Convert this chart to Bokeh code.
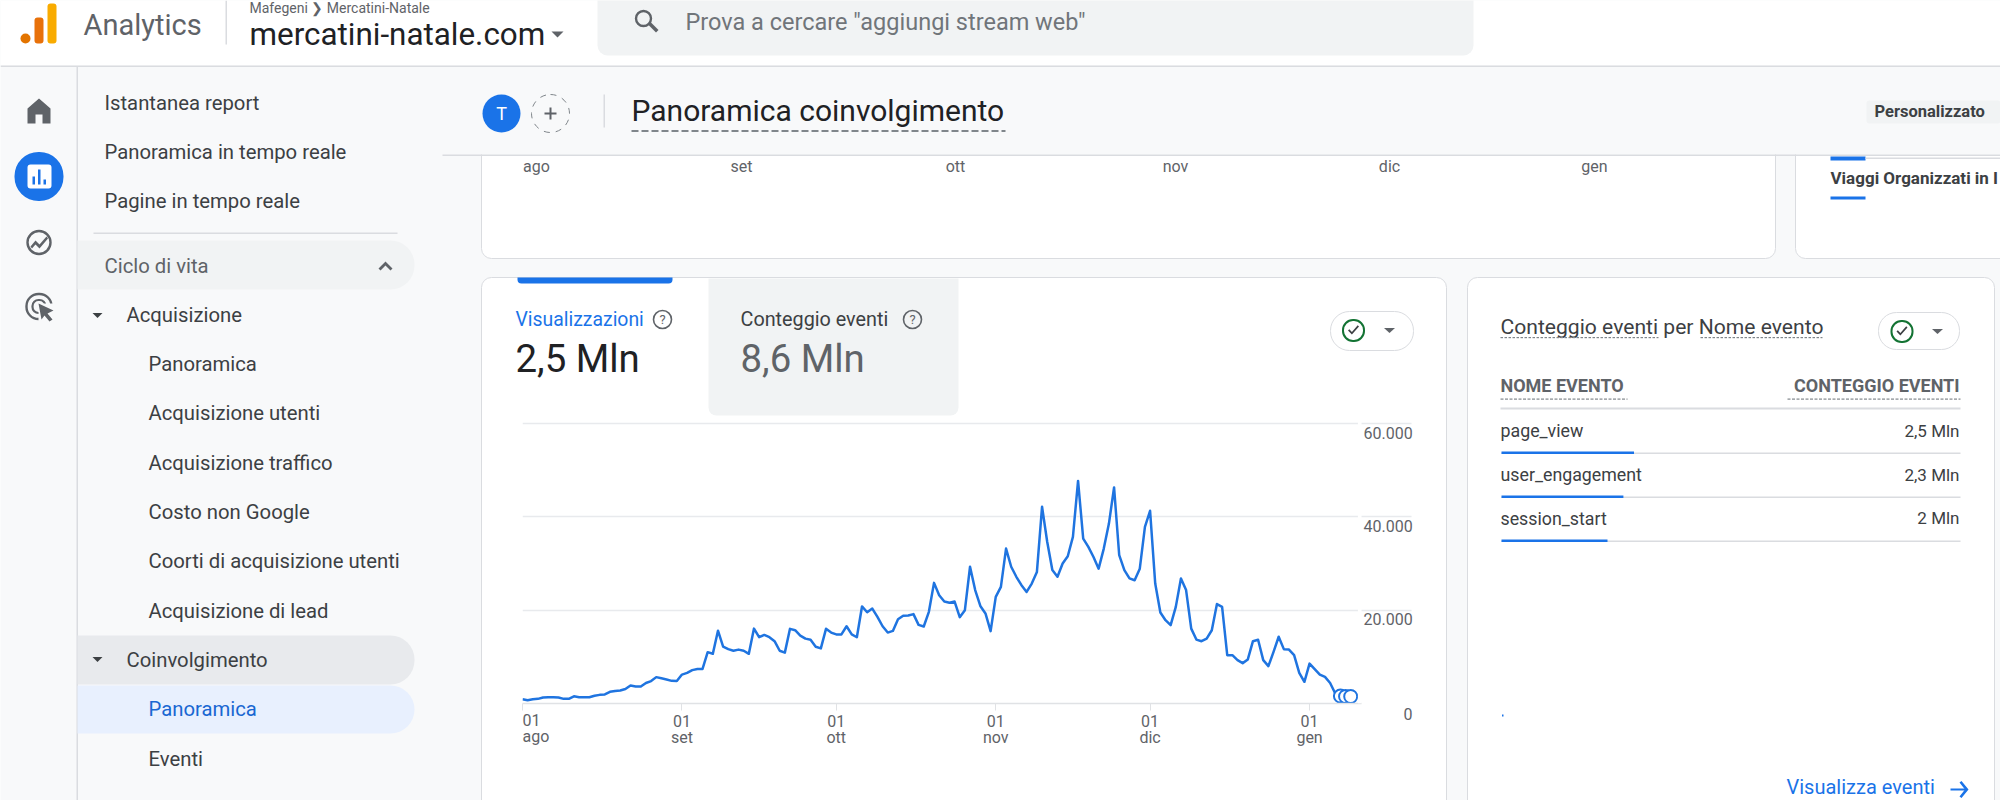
from datetime import datetime, timedelta
from bokeh.plotting import figure
from bokeh.models import BoxAnnotation, PolyAnnotation, Label, Range1d, FixedTicker
from bokeh.embed import file_html
from bokeh.resources import INLINE

# ---------- chart data ----------
start_date = datetime(2023, 8, 1)
visualizzazioni_k = [
    0.93, 0.7, 0.9, 1.0, 1.3, 1.35, 1.35, 1.3, 1.0, 1.0, 1.55, 1.35, 1.35, 1.35, 1.65, 1.85,
    1.95, 2.5, 2.7, 2.8, 3.1, 3.85, 3.65, 3.65, 4.4, 4.8, 5.65, 5.4, 5.15, 4.85, 4.8,
    6.2, 6.55, 7.15, 7.4, 7.4, 11.0, 10.65, 15.6, 12.2, 11.65, 11.3, 11.55, 11.3, 10.65,
    16.05, 14.2, 14.7, 14.2, 13.35, 11.3, 10.9, 16.0, 15.7, 14.55, 13.9, 13.65, 12.15, 11.8,
    16.0, 15.2, 14.8, 14.8, 16.55, 14.8, 14.2, 20.8, 19.55, 20.35, 18.55, 16.55, 15.2, 15.55,
    18.05, 18.8, 18.85, 19.15, 16.85, 16.5, 19.65, 25.85, 23.2, 21.85, 21.6, 21.85, 18.5, 20.0,
    29.3, 24.3, 20.9, 19.3, 15.5, 22.85, 25.0, 33.2, 29.3, 27.15, 25.35, 23.9, 25.7, 28.2,
    42.15, 34.65, 28.6, 27.15, 30.0, 31.55, 35.7, 47.7, 35.35, 33.55, 31.4, 28.9, 33.2, 38.55,
    46.3, 31.8, 28.6, 26.8, 26.4, 28.9, 37.85, 41.3, 25.7, 19.5, 17.85, 16.8, 20.7, 26.8,
    24.3, 16.05, 13.7, 13.35, 13.9, 15.7, 21.3, 20.7, 10.35, 10.35, 9.3, 8.65, 9.45, 13.35,
    13.65, 9.3, 8.0, 11.05, 14.3, 11.65, 11.55, 10.35, 6.55, 4.65, 8.55, 7.35, 6.2, 5.7,
    4.4, 2.15, 1.6, 1.5, 1.5,
]
month_tick_dates = [datetime(2023, 8, 1), datetime(2023, 9, 1), datetime(2023, 10, 1),
                    datetime(2023, 11, 1), datetime(2023, 12, 1), datetime(2024, 1, 1)]
month_tick_labels = ["01\nago", "01\nset", "01\nott", "01\nnov", "01\ndic", "01\ngen"]
y_tick_values = [0, 20000, 40000, 60000]
y_tick_labels = ["0", "20.000", "40.000", "60.000"]
marker_count = 3

event_names = ["page_view", "user_engagement", "session_start"]
event_values_mln = [2.5, 2.3, 2.0]
event_labels = ["2,5 Mln", "2,3 Mln", "2 Mln"]
top_month_labels = ["ago", "set", "ott", "nov", "dic", "gen"]
nav_top = ["Istantanea report", "Panoramica in tempo reale", "Pagine in tempo reale"]
nav_acq = ["Panoramica", "Acquisizione utenti", "Acquisizione traffico", "Costo non Google",
           "Coorti di acquisizione utenti", "Acquisizione di lead"]

# ---------- page: a full-canvas figure for the interface (axes in page pixels) ----------
W, H = 2000, 800
BLUE = "#1a73e8"
LINE_BLUE = "#1f74e0"
bg = figure(width=W, height=H, output_backend="svg", toolbar_location=None,
            x_range=Range1d(0, W), y_range=Range1d(H, 0),
            x_axis_type=None, y_axis_type=None,
            min_border=0, min_border_left=0, min_border_right=0, min_border_top=0, min_border_bottom=0)
bg.border_fill_color = "#f8f9fa"
bg.background_fill_color = "#f8f9fa"
bg.outline_line_color = None
bg.grid.visible = False

# ---------- chart figure, laid over the card ----------
CX0, CY0, CX1, CY1 = 500, 400, 1430, 770
FL, FT, FR, FB = 522, 409, 1361, 703
dates = [start_date + timedelta(days=i) for i in range(len(visualizzazioni_k))]
views = [v * 1000 for v in visualizzazioni_k]
x_end = start_date + timedelta(days=163.1)

p = figure(width=CX1 - CX0, height=CY1 - CY0, output_backend="svg", toolbar_location=None,
           x_axis_type="datetime", y_axis_location="right",
           x_range=Range1d(start_date, x_end), y_range=Range1d(0, 63000),
           min_border_left=FL - CX0, min_border_right=CX1 - FR,
           min_border_top=FT - CY0, min_border_bottom=CY1 - FB,
           stylesheets=[f":host {{ position: absolute !important; left: {CX0}px !important; top: {CY0}px !important; }}"])
p.border_fill_alpha = 0
p.background_fill_alpha = 0
p.outline_line_color = None
p.xgrid.visible = False
p.ygrid.grid_line_color = "#e8eaed"
p.ygrid.grid_line_width = 1.5
p.ygrid.ticker = FixedTicker(ticks=y_tick_values)

def epoch_ms(d):
    return (d - datetime(1970, 1, 1)).total_seconds() * 1000

tick_ms = [epoch_ms(d) for d in month_tick_dates]
xax = p.xaxis[0]
xax.ticker = FixedTicker(ticks=tick_ms)
overrides = {t: l for t, l in zip(tick_ms, month_tick_labels)}
overrides[tick_ms[0]] = ""
xax.major_label_overrides = overrides
xax.axis_line_color = "#e0e2e5"
xax.axis_line_width = 1.5
xax.major_tick_line_color = "#e0e2e5"
xax.major_tick_in = 0
xax.major_tick_out = 7
xax.minor_tick_line_color = None
xax.major_label_standoff = 1
xax.major_label_text_font = "Roboto"
xax.major_label_text_font_size = "16px"
xax.major_label_text_color = "#5f6368"
xax.major_label_text_line_height = 0.89

yax = p.yaxis[0]
yax.ticker = FixedTicker(ticks=y_tick_values[1:])
yax.major_label_overrides = {t: "\n" + l for t, l in zip(y_tick_values[1:], y_tick_labels[1:])}
yax.axis_line_color = None
yax.major_tick_line_color = "#e8eaed"
yax.major_tick_line_width = 1.5
yax.major_tick_in = 0
yax.major_tick_out = 50
yax.minor_tick_line_color = None
yax.major_label_standoff = -48
yax.major_label_text_font = "Roboto"
yax.major_label_text_font_size = "16px"
yax.major_label_text_color = "#5f6368"
yax.major_label_text_line_height = 1.0

p.line(dates, views, line_color=LINE_BLUE, line_width=2.5, line_join="round")
p.scatter(dates[-marker_count:], views[-marker_count:], size=13, fill_color="#ffffff",
          line_color=LINE_BLUE, line_width=2)
# small break between the grid and the rules over the right-hand labels
p.add_layout(BoxAnnotation(left=epoch_ms(x_end - timedelta(days=0.7)), right=epoch_ms(x_end),
                           top=63000, bottom=0, fill_color="#ffffff", fill_alpha=1,
                           line_alpha=0, editable=False))

# ---------- interface helpers (page pixels) ----------
def box(x0, y0, x1, y1, fill=None, radius=0, line=None, lw=1, dash="solid"):
    bg.add_layout(BoxAnnotation(left=x0, right=x1, top=y0, bottom=y1,
                                fill_color=fill, fill_alpha=1 if fill else 0,
                                line_color=line, line_width=lw, line_alpha=1 if line else 0, line_dash=dash,
                                border_radius=radius, editable=False))

def poly(pts, fill=None, line=None, lw=1):
    bg.add_layout(PolyAnnotation(xs=[x for x, _ in pts], ys=[y for _, y in pts],
                                 fill_color=fill, fill_alpha=1 if fill else 0,
                                 line_color=line, line_width=lw, line_alpha=1 if line else 0, editable=False))

def text(s, x, y, size, color="#3c4043", align="left", font="Roboto", style="normal", baseline="middle", lh=1.2):
    bg.add_layout(Label(x=x, y=y, text=s, text_font=font, text_font_size=f"{size}px", text_color=color,
                        text_align=align, text_baseline=baseline, text_font_style=style, text_line_height=lh))

def dashes(x0, x1, y, color="#80868b", on=3, off=2, h=1.5):
    x = x0
    while x < x1:
        box(x, y, min(x + on, x1), y + h, fill=color)
        x += on + off

def circle(cx, cy, r, fill=None, line=None, lw=1, dash="solid"):
    box(cx - r, cy - r, cx + r, cy + r, fill=fill, radius=int(round(r)), line=line, lw=lw, dash=dash)

def tri_down(cx, cy, w=11, h=5, color="#5f6368"):
    poly([(cx - w / 2, cy - h / 2), (cx + w / 2, cy - h / 2), (cx, cy + h / 2)], fill=color)

def help_icon(cx, cy):
    circle(cx, cy, 9, line="#5f6368", lw=1.6)
    text("?", cx, cy, 13, "#5f6368", align="center")

def check_icon(cx, cy):
    circle(cx, cy, 10.5, line="#137333", lw=2)
    poly([(cx - 5.5, cy), (cx - 1.6, cy + 4), (cx + 5.5, cy - 4), (cx + 4.2, cy - 5.3),
          (cx - 1.6, cy + 1.4), (cx - 4.2, cy - 1.3)], fill="#3c4043")

PILL_R = {"top_left": 0, "bottom_left": 0, "top_right": 24, "bottom_right": 24}
NAV_SIZE = 20.3

# --- cards ---
box(481, 140, 1775, 258, fill="#ffffff", radius=10, line="#dadce0")
box(1795, 140, 2040, 258, fill="#ffffff", radius=10, line="#dadce0")
box(481, 277, 1446, 860, fill="#ffffff", radius=10, line="#dadce0")
box(1467, 277, 1994, 860, fill="#ffffff", radius=10, line="#dadce0")
box(708, 278, 958, 415, fill="#f1f3f4", radius={"top_left": 0, "top_right": 0, "bottom_left": 8, "bottom_right": 8})
box(517, 277, 672, 283, fill=BLUE, radius={"top_left": 0, "top_right": 0, "bottom_left": 4, "bottom_right": 4})

# --- header over the scrolled card ---
box(442, 66, 2000, 154, fill="#f8f9fa")
box(442, 154, 2000, 155.5, fill="#dadce0")
box(0, 0, 2000, 65, fill="#ffffff")
box(0, 65, 2000, 66.5, fill="#dadce0")
box(76, 66, 77.5, 810, fill="#dadce0")

# --- top bar ---
circle(25, 38, 5, fill="#e37400")
box(34, 17, 43, 43, fill="#e8710a", radius=3)
box(47, 3, 56, 43, fill="#f9ab00", radius=3)
text("Analytics", 83, 24, 29, "#5f6368")
box(225, 0, 226.5, 44, fill="#dadce0")
text("Mafegeni  \u276f  Mercatini-Natale", 249, 7, 14, "#5f6368")
text("mercatini-natale.com", 249, 33.5, 31.4, "#202124")
tri_down(557, 34, 12, 6)
box(597, -10, 1473, 55, fill="#f1f3f4", radius=10)
circle(643, 18, 7.5, line="#5f6368", lw=2.4)
poly([(647.5, 24), (650, 21.5), (658, 29.5), (655.5, 32)], fill="#5f6368")
text("Prova a cercare \"aggiungi stream web\"", 685, 21, 23.5, "#70757a")

# --- left rail ---
poly([(38.5, 98), (50, 108), (50, 123), (42, 123), (42, 114), (35, 114), (35, 123), (27, 123), (27, 108)], fill="#5f6368")
circle(38.5, 176, 24.5, fill=BLUE)
box(27, 164, 51, 188, fill="#ffffff", radius=3)
box(32, 176, 34.5, 184, fill=BLUE)
box(37.5, 169, 40, 184, fill=BLUE)
box(43, 179, 45.5, 184, fill=BLUE)
circle(38.5, 242, 11.5, line="#5f6368", lw=2.4)
poly([(30, 246), (35, 240), (39, 244), (46, 236), (47.5, 238), (39, 248), (35, 244), (31.5, 248)], fill="#5f6368")
circle(38.5, 306, 12.5, line="#5f6368", lw=2.4)
circle(38.5, 306, 6.5, line="#5f6368", lw=2.2)
box(38, 303, 54, 322, fill="#f8f9fa")
poly([(38, 303), (53, 310), (47, 313), (52, 319), (49, 321), (44, 315), (41, 319)], fill="#5f6368")

# --- sidebar ---
NAV = "#3c4043"
for s, y in zip(nav_top, [102, 151, 200]):
    text(s, 104, y, NAV_SIZE, NAV)
box(93, 232, 397, 233.5, fill="#dadce0")
box(77, 240, 414, 289, fill="#f1f3f4", radius=PILL_R)
text("Ciclo di vita", 104, 265, NAV_SIZE, "#5f6368")
poly([(378, 268), (385, 261), (392, 268), (390, 270), (385, 265), (380, 270)], fill="#5f6368")
tri_down(97, 315, 10, 5, "#3c4043")
text("Acquisizione", 126, 314, NAV_SIZE, NAV)
for s, y in zip(nav_acq, [363.5, 412.5, 462, 511, 560.5, 610]):
    text(s, 148, y, NAV_SIZE, NAV)
box(77, 635, 414, 684, fill="#e8eaed", radius=PILL_R)
tri_down(97, 659, 10, 5, "#3c4043")
text("Coinvolgimento", 126, 659, NAV_SIZE, NAV)
box(77, 685, 414, 733, fill="#e8f0fe", radius=PILL_R)
text("Panoramica", 148, 708, NAV_SIZE, "#1967d2")
text("Eventi", 148, 758, NAV_SIZE, NAV)

# --- page header ---
circle(501, 113, 19, fill=BLUE)
text("T", 501, 113, 18, "#ffffff", align="center")
circle(550, 113, 19, line="#80868b", lw=1, dash="dashed")
box(544, 112, 556, 114, fill="#5f6368")
box(549, 107, 551, 119, fill="#5f6368")
box(603, 94, 604.5, 127, fill="#dadce0")
text("Panoramica coinvolgimento", 631, 110, 30, "#202124")
dashes(631, 1005, 129.5, on=7, off=3, h=2)
box(1866, 100, 2000, 123, fill="#f1f3f4", radius=3)
text("Personalizzato", 1874, 111, 16.5, "#3c4043", style="bold")

# --- scrolled top card ---
for s, x in zip(top_month_labels, [536, 741, 955, 1175, 1389, 1594]):
    text(s, x, 166, 16, "#5f6368", align="center")
box(1830, 156, 1865, 160, fill=BLUE)
box(1865, 157, 2000, 158.5, fill="#dadce0")
text("Viaggi Organizzati in I", 1830, 177, 17, "#3c4043", style="bold")
box(1830, 196, 1865, 199, fill=BLUE)

# --- main card ---
text("Visualizzazioni", 515, 319, 19.4, BLUE)
help_icon(662, 319)
text("2,5 Mln", 515, 358, 38.4, "#202124")
text("Conteggio eventi", 740, 319, 19.8, "#3c4043")
help_icon(912, 319)
text("8,6 Mln", 740, 358, 38.4, "#5f6368")
box(1330, 311, 1413, 350, fill="#ffffff", radius=19, line="#dadce0")
check_icon(1353, 330)
tri_down(1389, 330, 11, 5)
# tick labels of the chart that do not sit on their tick
text(month_tick_labels[0], 522, 710, 16, "#5f6368", baseline="top", lh=0.89)
text(y_tick_labels[0], 1412, 713, 16, "#5f6368", align="right")

# --- event card ---
text("Conteggio eventi per Nome evento", 1500, 325.5, 21.1, "#3c4043")
dashes(1500, 1658, 336.5, on=2.5, off=1.5, h=1.2)
dashes(1700, 1822, 336.5, on=2.5, off=1.5, h=1.2)
box(1878, 312, 1959, 349, fill="#ffffff", radius=18, line="#dadce0")
check_icon(1901.5, 331)
tri_down(1937, 331, 11, 5)
text("NOME EVENTO", 1500, 385, 18, "#5f6368", style="bold")
text("CONTEGGIO EVENTI", 1959, 385, 18, "#5f6368", align="right", style="bold")
dashes(1500, 1627, 398, on=3, off=1.5, h=1.2)
dashes(1787, 1960, 398, on=3, off=1.5, h=1.2)
box(1500, 407, 1960, 409, fill="#dadce0")
PX_PER_MLN = 53
for name, val, lab, yt, yl in zip(event_names, event_values_mln, event_labels,
                                  [430, 474, 517.5], [452, 496, 540]):
    text(name, 1500, yt, 17.8, "#3c4043")
    text(lab, 1959, yt, 17, "#3c4043", align="right")
    box(1501, yl, 1960, yl + 1.5, fill="#dadce0")
    box(1501, yl - 1, 1501 + val * PX_PER_MLN, yl + 1.5, fill=BLUE)
box(1501.5, 714, 1503, 716, fill=BLUE)
text("Visualizza eventi", 1786, 786.5, 20, BLUE)
box(1950, 788, 1966, 790, fill=BLUE)
poly([(1959, 782), (1961, 780.5), (1968, 789), (1961, 797.5), (1959, 796), (1964.5, 789)], fill=BLUE)

open("out.html", "w").write(file_html([bg, p], INLINE))
